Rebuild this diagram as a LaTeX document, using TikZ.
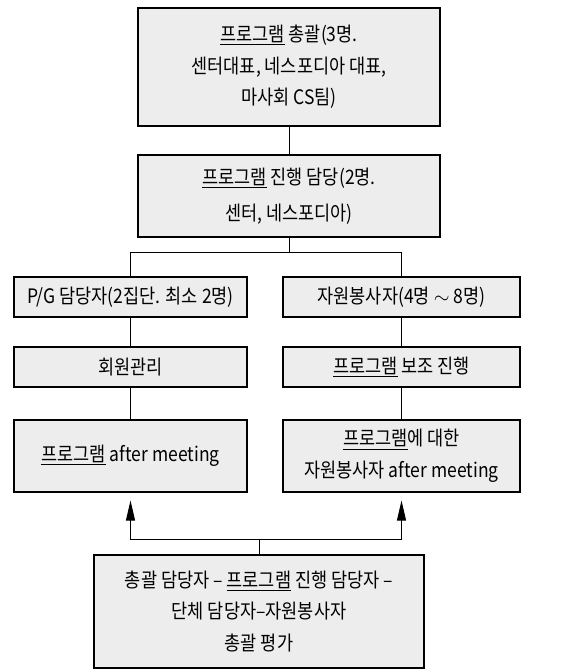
\documentclass[tikz,border=0pt]{standalone}
\usepackage{fontspec}
\setmainfont[FakeStretch=0.88]{Noto Sans CJK KR}
\usepackage{tikz}
\usetikzlibrary{arrows.meta,positioning}

\begin{document}
\begin{tikzpicture}[on grid,
  role/.style={draw,line width=0.9pt,fill=black!7,align=center,inner sep=0pt,
    font=\fontsize{17}{27}\selectfont},
  link/.style={line width=0.8pt},
  up/.style={link,-{Triangle[length=0.6cm,width=0.27cm]},shorten >=0.24cm}]
  \useasboundingbox (0,0) rectangle (17.04,-20.07);
  \node[role,minimum width=9.06cm,minimum height=3.54cm] (top) at (8.67,-2.01)
    {\underline{프로그램} 총괄(3명.\\센터대표, 네스포디아 대표,\\마사회 CS팀)};
  \node[role,minimum width=9.06cm,minimum height=2.46cm,
    font=\fontsize{17}{31}\selectfont] (mid) [below=3.87cm of top]
    {\underline{프로그램} 진행 담당(2명.\\센터, 네스포디아)};
  \node[role,minimum width=6.99cm,minimum height=1.2cm] (pg) [below left=3.03cm and 4.755cm of mid]
    {P/G 담당자(2집단. 최소 2명)};
  \node[role,minimum width=7.11cm,minimum height=1.2cm] (vol) [below right=3.03cm and 3.375cm of mid]
    {자원봉사자(4명 $\sim$ 8명)};
  \node[role,minimum width=6.99cm,minimum height=1.2cm] (mem) [below=2.1cm of pg] {회원관리};
  \node[role,minimum width=7.11cm,minimum height=1.2cm] (asst) [below=2.1cm of vol]
    {\underline{프로그램} 보조 진행};
  \node[role,minimum width=6.99cm,minimum height=2.16cm] (pgam) [below=2.67cm of mem]
    {\underline{프로그램} after meeting};
  \node[role,minimum width=7.11cm,minimum height=2.16cm] (vam) [below=2.67cm of asst]
    {\underline{프로그램}에 대한\\자원봉사자 after meeting};
  \node[role,minimum width=9.9cm,minimum height=3.39cm] (eval) at (7.77,-18.345)
    {총괄 담당자 – \underline{프로그램} 진행 담당자 –\\단체 담당자–자원봉사자\\총괄 평가};
  \draw[link] (top) -- (mid);
  \draw[link] (mid.south) -- ++(0,-0.45) -| (pg.north);
  \draw[link] (mid.south) -- ++(0,-0.45) -| (vol.north);
  \draw[link] (pg) -- (mem);
  \draw[link] (mem) -- (pgam);
  \draw[link] (vol) -- (asst);
  \draw[link] (asst) -- (vam);
  \draw[up] (eval.north) -- ++(0,0.45) -| (pgam.south);
  \draw[up] (eval.north) -- ++(0,0.45) -| (vam.south);
\end{tikzpicture}
\end{document}
